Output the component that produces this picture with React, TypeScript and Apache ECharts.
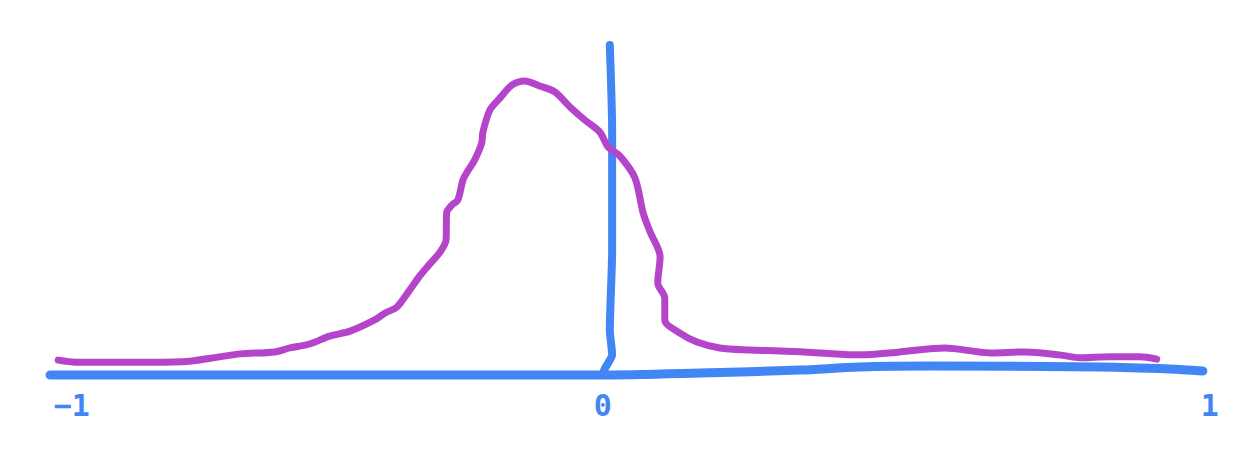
import React, { useEffect, useRef } from "react";
import * as echarts from "echarts";

// Hand-drawn curve (x, y)
const curveX = [-0.938, -0.909, -0.85, -0.781, -0.713, -0.662, -0.627, -0.568, -0.542, -0.508, -0.474, -0.439, -0.397, -0.379, -0.359, -0.337, -0.32, -0.303, -0.285, -0.275, -0.274, -0.265, -0.255, -0.246, -0.239, -0.226, -0.214, -0.212, -0.2, -0.183, -0.162, -0.14, -0.115, -0.089, -0.063, -0.038, -0.012, 0.002, 0.022, 0.048, 0.062, 0.074, 0.091, 0.087, 0.099, 0.099, 0.125, 0.154, 0.193, 0.244, 0.296, 0.364, 0.432, 0.501, 0.578, 0.655, 0.715, 0.774, 0.809, 0.86, 0.911, 0.94];
const curveY = [0.045, 0.039, 0.039, 0.039, 0.042, 0.055, 0.064, 0.07, 0.082, 0.094, 0.118, 0.133, 0.167, 0.188, 0.206, 0.258, 0.3, 0.336, 0.373, 0.409, 0.491, 0.515, 0.53, 0.591, 0.615, 0.652, 0.703, 0.736, 0.803, 0.839, 0.879, 0.891, 0.876, 0.858, 0.812, 0.773, 0.736, 0.691, 0.664, 0.597, 0.491, 0.433, 0.358, 0.279, 0.233, 0.167, 0.127, 0.1, 0.082, 0.076, 0.073, 0.067, 0.061, 0.07, 0.082, 0.067, 0.07, 0.061, 0.052, 0.055, 0.055, 0.048];

// Hand-drawn horizontal axis
const hAxisX = [-0.952, -0.525, -0.012, 0.159, 0.33, 0.432, 0.552, 0.843, 0.962, 1.019];
const hAxisY = [0, 0, 0, 0.006, 0.015, 0.024, 0.027, 0.024, 0.018, 0.012];

// Hand-drawn vertical axis
const vAxisX = [0.005, 0.009, 0.009, 0.005, 0.009, -0.003, -0.007];
const vAxisY = [1.0, 0.742, 0.379, 0.136, 0.061, 0.021, 0.003];

// Tick labels and where they sit
const tickValues = [-0.915, -0.007, 1.031];
const tickLabels = ["\u22121", "0", "1"];

const BLUE = "#4285f4";
const PURPLE = "#b445cb";

const zip = (xs: number[], ys: number[]) => xs.map((x, i) => [x, ys[i]]);

export default function App() {
  const ref = useRef<HTMLDivElement>(null);
  useEffect(() => {
    if (!ref.current) return;
    const chart = echarts.init(ref.current, undefined, { renderer: "svg" });
    chart.setOption({
      animation: false,
      backgroundColor: "#ffffff",
      grid: { left: 22, top: 45, width: 1199, height: 330 },
      xAxis: {
        type: "value",
        min: -1,
        max: 1.05,
        axisLine: { show: false },
        axisTick: { show: false },
        splitLine: { show: false },
        axisLabel: {
          customValues: tickValues,
          color: BLUE,
          fontSize: 30,
          fontWeight: "bold",
          fontFamily: "DejaVu Sans Mono",
          margin: 15,
          formatter: (v: number) => {
            let best = 0;
            tickValues.forEach((t, i) => {
              if (Math.abs(t - v) < Math.abs(tickValues[best] - v)) best = i;
            });
            return tickLabels[best];
          },
        },
      },
      yAxis: {
        type: "value",
        min: 0,
        max: 1,
        show: false,
      },
      series: [
        {
          type: "line",
          data: zip(hAxisX, hAxisY),
          symbol: "none",
          smooth: 0.3,
          clip: false,
          lineStyle: { color: BLUE, width: 9, cap: "round", join: "round" },
          z: 2,
        },
        {
          type: "line",
          data: zip(vAxisX, vAxisY),
          symbol: "none",
          smooth: 0.2,
          clip: false,
          lineStyle: { color: BLUE, width: 8, cap: "round", join: "round" },
          z: 2,
        },
        {
          type: "line",
          data: zip(curveX, curveY),
          symbol: "none",
          smooth: 0.3,
          clip: false,
          lineStyle: { color: PURPLE, width: 7, cap: "round", join: "round" },
          z: 3,
        },
      ],
    });
    return () => chart.dispose();
  }, []);
  return (
    <div
      ref={ref}
      style={{ position: "fixed", left: 0, top: 0, width: 1249, height: 449 }}
    />
  );
}
